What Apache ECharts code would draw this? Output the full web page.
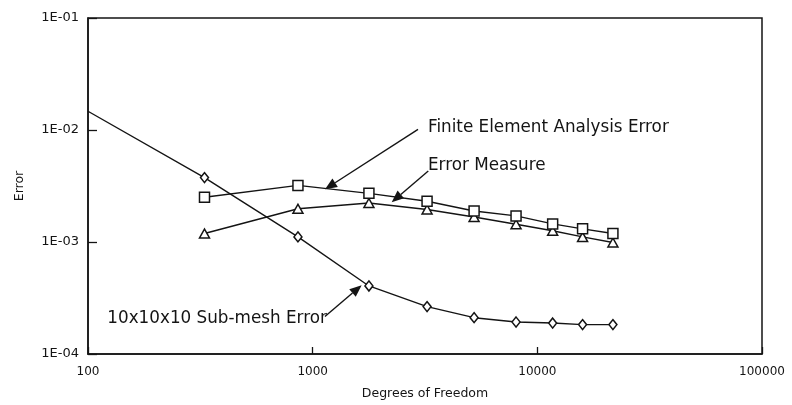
<!DOCTYPE html>
<html><head><meta charset="utf-8">
<script src="https://cdn.jsdelivr.net/npm/echarts@6/dist/echarts.min.js"></script>
<style>html,body{margin:0;padding:0;background:#fff}#c{width:792px;height:405px}</style>
</head><body><div id="c"></div>
<script>
// ---- data ----
const dof = [330, 860, 1780, 3230, 5230, 8040, 11700, 15900, 21700];
const feaError = [2.51e-3, 3.20e-3, 2.72e-3, 2.31e-3, 1.89e-3, 1.71e-3, 1.45e-3, 1.31e-3, 1.19e-3];
const errorMeasure = [1.19e-3, 1.98e-3, 2.23e-3, 1.95e-3, 1.67e-3, 1.44e-3, 1.26e-3, 1.11e-3, 0.99e-3];
const subMeshLead = [100, 1.47e-2];   // line enters at the left edge
const subMeshError = [3.76e-3, 1.11e-3, 4.05e-4, 2.65e-4, 2.11e-4, 1.93e-4, 1.89e-4, 1.83e-4, 1.83e-4];
const xTickLabels = ['100', '1000', '10000', '100000'];
const yTickLabels = ['1E-04', '1E-03', '1E-02', '1E-01'];
const annotationTexts = ['Finite Element Analysis Error', 'Error Measure', '10x10x10 Sub-mesh Error'];
// annotation anchors in data coordinates: text left/middle, arrow start, arrow tip
const annotationAnchors = [
  { text: [3260, 1.057e-2], from: [2944, 1.014e-2], to: [1135, 2.96e-3] },
  { text: [3260, 4.80e-3], from: [3270, 4.31e-3], to: [2247, 2.266e-3] },
  { text: [121.9, 2.08e-4], from: [1134, 2.163e-4], to: [1652, 4.11e-4] }
];

const INK = '#141414';
const FONT = 'DejaVu Sans';
const chart = echarts.init(document.getElementById('c'), null, { renderer: 'canvas' });

function pairs(xs, ys) { return xs.map((x, i) => [x, ys[i]]); }

const subMeshData = [{ value: subMeshLead, symbol: 'none' }].concat(pairs(dof, subMeshError));

const markerStyle = { color: '#fff', borderColor: INK, borderWidth: 1.5 };

chart.setOption({
  animation: false,
  backgroundColor: '#fff',
  grid: { left: 88, right: 30, top: 18, bottom: 46, show: true, borderColor: INK, borderWidth: 1.5, backgroundColor: 'transparent' },
  xAxis: {
    type: 'log', logBase: 10, min: 100, max: 100000,
    name: 'Degrees of Freedom', nameLocation: 'middle', nameGap: 33,
    nameTextStyle: { fontFamily: FONT, fontSize: 12.5, color: INK },
    axisLine: { show: true, lineStyle: { color: INK, width: 1.5 } },
    axisTick: { show: true, inside: true, length: 7, lineStyle: { color: INK, width: 1.3 } },
    minorTick: { show: false },
    splitLine: { show: false },
    axisLabel: {
      fontFamily: FONT, fontSize: 12, color: INK, margin: 12,
      formatter: v => xTickLabels[Math.round(Math.log10(v)) - 2] || ''
    }
  },
  yAxis: {
    type: 'log', logBase: 10, min: 1e-4, max: 1e-1,
    name: 'Error', nameLocation: 'middle', nameGap: 62, nameRotate: 90,
    nameTextStyle: { fontFamily: FONT, fontSize: 12.5, color: INK },
    axisLine: { show: true, lineStyle: { color: INK, width: 1.5 } },
    axisTick: { show: true, inside: true, length: 9, lineStyle: { color: INK, width: 1.3 } },
    splitLine: { show: false },
    axisLabel: {
      fontFamily: FONT, fontSize: 13, color: INK, margin: 9,
      formatter: v => yTickLabels[Math.round(Math.log10(v)) + 4] || ''
    }
  },
  series: [
    {
      name: '10x10x10 Sub-mesh Error', type: 'line', data: subMeshData,
      symbol: 'diamond', symbolSize: [8, 10], showAllSymbol: true,
      lineStyle: { color: INK, width: 1.4 }, itemStyle: markerStyle, z: 3
    },
    {
      name: 'Error Measure', type: 'line', data: pairs(dof, errorMeasure),
      symbol: 'triangle', symbolSize: [10, 9], showAllSymbol: true,
      lineStyle: { color: INK, width: 1.4 }, itemStyle: markerStyle, z: 4
    },
    {
      name: 'Finite Element Analysis Error', type: 'line', data: pairs(dof, feaError),
      symbol: 'rect', symbolSize: 10, showAllSymbol: true,
      lineStyle: { color: INK, width: 1.4 }, itemStyle: markerStyle, z: 5
    }
  ]
});

// annotations placed from data coordinates
const g = [];
annotationAnchors.forEach((a, i) => {
  const t = chart.convertToPixel({ gridIndex: 0 }, a.text);
  const p0 = chart.convertToPixel({ gridIndex: 0 }, a.from);
  const p1 = chart.convertToPixel({ gridIndex: 0 }, a.to);
  const dx = p1[0] - p0[0], dy = p1[1] - p0[1];
  const len = Math.sqrt(dx * dx + dy * dy);
  const ux = dx / len, uy = dy / len;
  const headL = 12, headW = 5;
  const bx = p1[0] - ux * headL, by = p1[1] - uy * headL;
  g.push({
    type: 'line', z: 10,
    shape: { x1: p0[0], y1: p0[1], x2: bx, y2: by },
    style: { stroke: INK, lineWidth: 1.4 }
  });
  g.push({
    type: 'polygon', z: 10,
    shape: { points: [[p1[0], p1[1]], [bx - uy * headW, by + ux * headW], [bx + uy * headW, by - ux * headW]] },
    style: { fill: INK }
  });
  g.push({
    type: 'text', z: 10,
    style: {
      text: annotationTexts[i], x: t[0], y: t[1],
      font: '16.8px "' + FONT + '"', fill: INK,
      align: 'left', verticalAlign: 'middle', textAlign: 'left', textVerticalAlign: 'middle'
    }
  });
});
chart.setOption({ graphic: g });
</script>
</body></html>
